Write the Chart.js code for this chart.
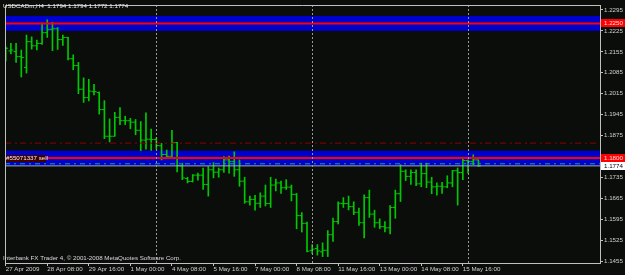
<!DOCTYPE html>
<html lang="en">
<head>
<meta charset="UTF-8">
<title>USDCADm,H4</title>
<script src="https://cdn.jsdelivr.net/npm/chart.js"></script>
<style>
  html, body { margin: 0; padding: 0; background: #0b0d0b; overflow: hidden; }
  canvas { display: block; }
</style>
</head>
<body>
<canvas id="canvas" width="625" height="275"></canvas>
<script>
// H4 bars, index 0 = 27 Apr 2009 00:00
const opens = [1.2161, 1.2158, 1.2156, 1.2139, 1.2103, 1.2189, 1.2175, 1.2183, 1.2219, 1.2230,
  1.2232, 1.2196, 1.2203, 1.2132, 1.2109, 1.2030, 1.2002, 1.2022, 1.2019, 1.1962,
  1.1873, 1.1873, 1.1936, 1.1925, 1.1925, 1.1920, 1.1893, 1.1860, 1.1863, 1.1862,
  1.1841, 1.1812, 1.1806, 1.1852, 1.1774, 1.1732, 1.1722, 1.1743, 1.1743, 1.1712,
  1.1761, 1.1753, 1.1761, 1.1794, 1.1789, 1.1761, 1.1723, 1.1654, 1.1662, 1.1649,
  1.1673, 1.1648, 1.1710, 1.1717, 1.1701, 1.1703, 1.1679, 1.1608, 1.1582, 1.1492,
  1.1498, 1.1487, 1.1492, 1.1544, 1.1588, 1.1648, 1.1648, 1.1638, 1.1619, 1.1584,
  1.1668, 1.1613, 1.1584, 1.1571, 1.1567, 1.1635, 1.1681, 1.1756, 1.1739, 1.1752,
  1.1714, 1.1748, 1.1720, 1.1704, 1.1706, 1.1704, 1.1717, 1.1758, 1.1752, 1.1792,
  1.1789, 1.1794];
const highs = [1.2172, 1.2183, 1.2183, 1.2161, 1.2211, 1.2205, 1.2194, 1.2252, 1.2262, 1.2254,
  1.2236, 1.2211, 1.2203, 1.2145, 1.2120, 1.2068, 1.2063, 1.2046, 1.2021, 1.1992,
  1.1931, 1.1953, 1.1969, 1.1940, 1.1933, 1.1929, 1.1922, 1.1951, 1.1897, 1.1868,
  1.1849, 1.1827, 1.1893, 1.1853, 1.1783, 1.1736, 1.1745, 1.1750, 1.1767, 1.1772,
  1.1785, 1.1767, 1.1805, 1.1807, 1.1821, 1.1794, 1.1736, 1.1673, 1.1676, 1.1684,
  1.1710, 1.1736, 1.1730, 1.1723, 1.1728, 1.1710, 1.1682, 1.1618, 1.1586, 1.1511,
  1.1511, 1.1517, 1.1558, 1.1600, 1.1654, 1.1668, 1.1673, 1.1654, 1.1633, 1.1677,
  1.1693, 1.1626, 1.1597, 1.1588, 1.1641, 1.1693, 1.1778, 1.1761, 1.1761, 1.1761,
  1.1783, 1.1783, 1.1736, 1.1717, 1.1719, 1.1741, 1.1759, 1.1767, 1.1803, 1.1794,
  1.1811, 1.1794];
const lows = [1.2125, 1.2148, 1.2120, 1.2071, 1.2084, 1.2164, 1.2161, 1.2180, 1.2203, 1.2159,
  1.2163, 1.2176, 1.2128, 1.2095, 1.2015, 1.1986, 1.1991, 1.2011, 1.1947, 1.1865,
  1.1854, 1.1873, 1.1912, 1.1912, 1.1898, 1.1878, 1.1825, 1.1830, 1.1826, 1.1830,
  1.1794, 1.1799, 1.1799, 1.1754, 1.1728, 1.1717, 1.1720, 1.1726, 1.1695, 1.1673,
  1.1734, 1.1736, 1.1752, 1.1750, 1.1739, 1.1706, 1.1649, 1.1643, 1.1626, 1.1635,
  1.1640, 1.1635, 1.1690, 1.1682, 1.1695, 1.1657, 1.1564, 1.1553, 1.1487, 1.1481,
  1.1476, 1.1471, 1.1471, 1.1522, 1.1580, 1.1635, 1.1627, 1.1611, 1.1575, 1.1533,
  1.1602, 1.1569, 1.1564, 1.1553, 1.1547, 1.1599, 1.1655, 1.1725, 1.1712, 1.1708,
  1.1704, 1.1701, 1.1681, 1.1676, 1.1682, 1.1701, 1.1704, 1.1643, 1.1728, 1.1750,
  1.1778, 1.1772];
const closes = [1.2167, 1.2161, 1.2139, 1.2136, 1.2189, 1.2175, 1.2183, 1.2219, 1.2229, 1.2232,
  1.2196, 1.2203, 1.2132, 1.2109, 1.2030, 1.2002, 1.2024, 1.2022, 1.1962, 1.1873,
  1.1873, 1.1936, 1.1925, 1.1925, 1.1920, 1.1893, 1.1860, 1.1863, 1.1862, 1.1842,
  1.1812, 1.1806, 1.1852, 1.1775, 1.1734, 1.1722, 1.1743, 1.1743, 1.1712, 1.1761,
  1.1753, 1.1761, 1.1794, 1.1789, 1.1761, 1.1723, 1.1654, 1.1662, 1.1649, 1.1673,
  1.1648, 1.1710, 1.1717, 1.1701, 1.1703, 1.1679, 1.1608, 1.1582, 1.1489, 1.1496,
  1.1490, 1.1492, 1.1544, 1.1588, 1.1649, 1.1648, 1.1638, 1.1619, 1.1584, 1.1668,
  1.1613, 1.1584, 1.1571, 1.1567, 1.1635, 1.1681, 1.1756, 1.1739, 1.1752, 1.1714,
  1.1748, 1.1720, 1.1704, 1.1706, 1.1704, 1.1717, 1.1758, 1.1752, 1.1792, 1.1789,
  1.1794, 1.1774];

// time axis: a label every 8 bars
const timeTicks = [0, 8, 16, 24, 32, 40, 48, 56, 64, 72, 80, 88];
const timeLabels = ['27 Apr 2009', '28 Apr 08:00', '29 Apr 16:00', '1 May 00:00', '4 May 08:00', '5 May 16:00',
  '7 May 00:00', '8 May 08:00', '11 May 16:00', '13 May 00:00', '14 May 08:00', '15 May 16:00'];
const priceTicks = [1.2295, 1.2225, 1.2155, 1.2085, 1.2015, 1.1945, 1.1875, 1.1805, 1.1735, 1.1665, 1.1595, 1.1525, 1.1455];

// week separators (bar index)
const weekStarts = [29, 59, 89];

// objects on the chart
const zoneCenters = [1.2250, 1.1800];
const zoneHalf = 0.0025;
const stopLevel = 1.1850;
const askPrice = 1.1781;
const bidPrice = 1.1774;
const orderText = '#55071337 sell';
const titleText = 'USDCADm,H4  1.1794 1.1794 1.1772 1.1774';
const footerText = 'Interbank FX Trader 4, \u00A9 2001-2008 MetaQuotes Software Corp.';

const GREEN = '#00c800';
const GRAY = '#c0c0c0';
const FONT = '"Liberation Sans", Arial, sans-serif';

function hline(c, a, y, color, width, dash) {
    c.save();
    c.strokeStyle = color;
    c.lineWidth = width;
    c.setLineDash(dash || []);
    c.beginPath();
    c.moveTo(a.left, y);
    c.lineTo(a.right, y);
    c.stroke();
    c.restore();
}

function priceBox(c, x, y, text, bg, fg) {
    c.save();
    c.fillStyle = bg;
    c.fillRect(x, Math.round(y) - 4, 625 - x, 8);
    c.fillStyle = fg;
    c.font = '6.2px ' + FONT;
    c.textBaseline = 'middle';
    c.fillText(text, x + 3, Math.round(y) + 0.5);
    c.restore();
}

const mt4 = {
    id: 'mt4',
    beforeDraw(chart) {
        const c = chart.ctx;
        c.save();
        c.fillStyle = '#0b0d0b';
        c.fillRect(0, 0, chart.width, chart.height);
        c.restore();
    },
    beforeDatasetsDraw(chart) {
        const c = chart.ctx, a = chart.chartArea, y = chart.scales.y;
        c.save();
        c.fillStyle = '#0000cd';
        zoneCenters.forEach(z => {
            const y1 = y.getPixelForValue(z + zoneHalf);
            const y2 = y.getPixelForValue(z - zoneHalf);
            c.fillRect(a.left, y1, a.right - a.left, y2 - y1);
        });
        c.restore();
    },
    afterDatasetsDraw(chart) {
        const c = chart.ctx, a = chart.chartArea, x = chart.scales.x, y = chart.scales.y;

        hline(c, a, y.getPixelForValue(stopLevel), '#8b0000', 1, [6, 4, 2, 3]);
        hline(c, a, y.getPixelForValue(askPrice), '#10a890', 1, [5, 4, 2, 4]);
        hline(c, a, y.getPixelForValue(bidPrice), '#a0a8c0', 1);
        zoneCenters.forEach(z => hline(c, a, y.getPixelForValue(z), '#ff0000', 2));

        // order label on the line
        const oy = Math.round(y.getPixelForValue(zoneCenters[1]));
        c.save();
        c.fillStyle = '#400000';
        c.fillRect(5, oy - 3, 41, 7);
        c.fillStyle = '#f0f0f0';
        c.font = '6.2px ' + FONT;
        c.textBaseline = 'middle';
        c.fillText(orderText, 6, oy + 0.5);
        c.restore();

        // week separators
        c.save();
        c.strokeStyle = '#9a9a9a';
        c.lineWidth = 1;
        c.setLineDash([2, 2]);
        weekStarts.forEach(i => {
            const px = Math.round(x.getPixelForValue(i)) + 0.5;
            c.beginPath();
            c.moveTo(px, a.top);
            c.lineTo(px, a.bottom);
            c.stroke();
        });
        c.restore();

        // frame
        c.save();
        c.strokeStyle = GRAY;
        c.lineWidth = 1;
        c.beginPath();
        c.moveTo(a.left + 0.5, a.bottom);
        c.lineTo(a.left + 0.5, a.top + 0.5);
        c.lineTo(a.right, a.top + 0.5);
        c.stroke();
        c.restore();

        // texts
        c.save();
        c.font = '6.2px ' + FONT;
        c.textBaseline = 'middle';
        c.fillStyle = '#e8e8e8';
        c.fillText(titleText, 3, 6.5);
        c.fillStyle = '#d8d8d8';
        c.fillText(footerText, 3, 258.5);
        c.restore();
    },
    afterDraw(chart) {
        const c = chart.ctx, y = chart.scales.y;
        priceBox(c, 601, y.getPixelForValue(zoneCenters[0]), zoneCenters[0].toFixed(4), '#ff0000', '#ffe0e0');
        priceBox(c, 601, y.getPixelForValue(zoneCenters[1]), zoneCenters[1].toFixed(4), '#ff0000', '#ffe0e0');
        priceBox(c, 601, y.getPixelForValue(bidPrice), bidPrice.toFixed(4), '#ffffff', '#000000');
    }
};

const idx = opens.map((v, i) => i);

const chart = new Chart(document.getElementById('canvas'), {
    type: 'bar',
    data: {
        datasets: [
            {
                type: 'bar',
                data: idx.map(i => ({ x: i, y: [lows[i], highs[i]] })),
                backgroundColor: GREEN,
                barThickness: 1,
                grouped: false,
                borderWidth: 0
            },
            {
                type: 'scatter',
                data: idx.map(i => ({ x: i, y: opens[i] })),
                pointStyle: 'dash',
                pointRotation: 180,
                pointRadius: 2.5,
                pointBorderWidth: 1,
                pointBorderColor: GREEN,
                pointBackgroundColor: GREEN
            },
            {
                type: 'scatter',
                data: idx.map(i => ({ x: i, y: closes[i] })),
                pointStyle: 'dash',
                pointRotation: 0,
                pointRadius: 2.5,
                pointBorderWidth: 1,
                pointBorderColor: GREEN,
                pointBackgroundColor: GREEN
            }
        ]
    },
    options: {
        responsive: false,
        animation: false,
        devicePixelRatio: 1,
        events: [],
        layout: { padding: { left: 1, top: 1, right: 0, bottom: 0 } },
        plugins: { legend: { display: false }, tooltip: { enabled: false } },
        scales: {
            x: {
                type: 'linear',
                min: -0.134,
                max: 114.4,
                offset: false,
                afterBuildTicks: s => { s.ticks = timeTicks.map(v => ({ value: v })); },
                afterFit: s => { s.height = 12; },
                grid: { drawOnChartArea: false, tickLength: 3, color: GRAY, offset: false },
                border: { color: GRAY },
                ticks: {
                    align: 'start', autoSkip: false, maxRotation: 0, padding: 0,
                    color: '#d0d0d0', font: { family: FONT, size: 6.2 },
                    callback: (v, i) => timeLabels[i]
                }
            },
            y: {
                position: 'right',
                min: 1.14496,
                max: 1.23114,
                afterBuildTicks: s => { s.ticks = priceTicks.map(v => ({ value: v })); },
                afterFit: s => { s.width = 25; },
                grid: { drawOnChartArea: false, tickLength: 3, color: GRAY },
                border: { color: GRAY },
                ticks: {
                    padding: 1, color: '#d0d0d0', font: { family: FONT, size: 6.2 },
                    callback: v => v.toFixed(4)
                }
            }
        }
    },
    plugins: [mt4]
});
</script>
</body>
</html>
